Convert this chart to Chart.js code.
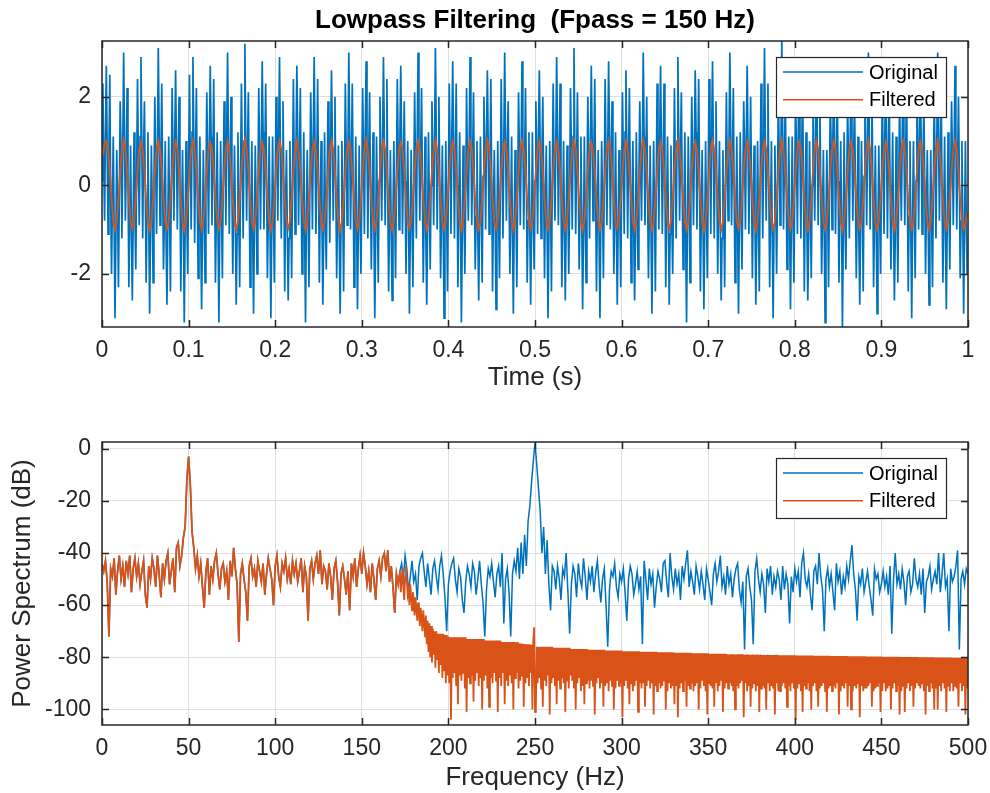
<!DOCTYPE html>
<html>
<head>
<meta charset="utf-8">
<title>Lowpass Filtering</title>
<script src="https://cdn.jsdelivr.net/npm/chart.js@4.4.1/dist/chart.umd.min.js"></script>
<style>
  body { margin: 0; background: #fff; }
  #wrap { position: relative; width: 990px; height: 793px; }
  canvas { position: absolute; left: 0; }
  #timeChart { top: 0; }
  #specChart { top: 400px; }
</style>
</head>
<body>
<div id="wrap">
  <canvas id="timeChart" width="990" height="400"></canvas>
  <canvas id="specChart" width="990" height="393"></canvas>
</div>
<script>
// ---------- time domain ----------
// original: one sample per ms starting at t = 0
const originalStart = 0;
const originalStep = 0.001;
// filtered: one sample every 2 ms starting at t = 1 ms
const filteredStart = 0.001;
const filteredStep = 0.002;
const timeTicks = [0, 0.1, 0.2, 0.3, 0.4, 0.5, 0.6, 0.7, 0.8, 0.9, 1];
const ampTicks = [-2, 0, 2];

// one row per 20 ms (one 50 Hz period)
const originalSignal = [
  0.1,2.3,0.5,-0.8,1.2,2.7,0.8,-1.1,0.7,2.5,-0.2,-2.0,-0.4,1.1,-0.9,-3.0,-1.2,0.8,-0.5,-2.3,
  -0.2,1.9,0.8,-1.2,0.9,3.0,1.1,-0.8,0.4,2.2,0.2,-2.3,-0.7,0.9,-1.1,-2.6,-0.8,1.2,-0.7,-1.9,
  0.2,2.4,0.6,-0.9,1.1,2.9,0.9,-1.2,0.8,1.9,-0.1,-2.2,-0.5,1.2,-0.8,-2.9,-1.1,0.9,-0.4,-2.2,
  0.0,2.0,0.4,-1.1,0.8,3.1,1.2,-0.9,0.6,2.3,0.1,-1.9,-0.8,1.0,-1.2,-2.7,-0.9,1.1,-0.6,-2.4,
  -0.1,2.2,0.7,-0.8,1.0,2.6,0.8,-1.0,0.5,2.0,0.0,-2.4,-0.6,0.8,-0.9,-3.1,-1.0,1.0,-0.8,-2.0,
  0.3,2.5,0.5,-1.0,1.2,2.9,1.0,-1.3,0.7,2.2,-0.2,-2.1,-0.3,1.1,-1.0,-2.8,-1.2,0.8,-0.5,-2.2,
  -0.1,2.1,0.6,-1.1,0.9,2.7,1.1,-0.9,0.4,2.4,0.1,-2.2,-0.7,1.2,-1.1,-3.1,-0.8,1.0,-0.6,-2.1,
  0.1,1.9,0.8,-0.9,1.1,3.0,0.9,-1.1,0.6,2.0,0.0,-2.0,-0.5,0.9,-0.8,-2.7,-1.1,1.2,-0.7,-2.3,
  0.2,2.3,0.5,-1.2,1.0,3.2,1.0,-0.8,0.8,2.1,-0.1,-2.3,-0.6,1.0,-1.2,-2.9,-0.9,0.9,-0.4,-2.0,
  -0.2,2.2,0.7,-1.0,0.8,2.8,1.2,-1.0,0.5,2.3,0.2,-2.1,-0.8,1.1,-0.9,-3.0,-1.0,1.1,-0.7,-2.2,
  0.0,2.0,0.6,-0.8,1.2,2.9,0.8,-1.2,0.7,1.9,0.0,-2.4,-0.4,0.8,-1.0,-2.6,-1.2,1.0,-0.5,-2.1,
  0.1,2.4,0.4,-1.1,0.9,2.7,1.1,-0.9,0.6,2.2,-0.2,-2.0,-0.7,1.2,-1.1,-3.1,-0.8,0.8,-0.6,-2.3,
  -0.1,2.1,0.8,-1.0,1.1,2.9,0.9,-1.1,0.4,2.4,0.1,-2.2,-0.5,1.0,-0.8,-2.7,-1.1,1.2,-0.8,-1.9,
  0.2,1.9,0.5,-1.3,1.0,2.6,1.0,-0.8,0.8,2.0,-0.1,-2.1,-0.6,0.9,-1.2,-2.9,-0.9,1.0,-0.4,-2.4,
  0.0,2.3,0.7,-0.9,0.8,3.0,1.2,-1.0,0.5,2.3,0.2,-2.3,-0.8,1.1,-0.9,-2.8,-1.0,0.9,-0.7,-2.0,
  -0.2,2.2,0.6,-1.1,1.2,2.8,0.8,-1.2,0.7,2.1,0.0,-1.9,-0.4,1.2,-1.0,-3.0,-1.2,1.1,-0.5,-2.2,
  0.1,2.0,0.4,-0.8,0.9,2.9,1.1,-0.9,0.6,2.4,-0.2,-2.4,-0.7,0.8,-1.1,-2.6,-0.8,1.0,-0.6,-2.1,
  0.2,2.4,0.8,-1.0,1.1,2.7,0.9,-1.1,0.4,1.9,0.1,-2.0,-0.5,1.0,-0.8,-2.9,-1.1,0.8,-0.8,-2.3,
  -0.1,2.1,0.5,-1.2,1.0,3.0,1.0,-0.8,0.8,2.2,-0.1,-2.2,-0.6,1.1,-1.2,-2.7,-0.9,1.2,-0.4,-1.9,
  0.0,1.9,0.7,-0.9,0.8,3.1,1.2,-1.0,0.5,2.0,0.2,-2.1,-0.8,0.9,-0.9,-3.0,-1.0,1.0,-0.7,-2.4,
  0.1,2.3,0.6,-1.1,1.2,2.8,0.8,-1.2,0.7,2.3,0.0,-2.3,-0.4,1.2,-1.0,-3.1,-1.2,0.9,-0.5,-2.0,
  -0.2,2.2,0.4,-0.8,0.9,2.9,1.1,-0.9,0.6,2.1,-0.2,-1.9,-0.7,1.0,-1.1,-2.6,-0.8,1.1,-0.6,-2.2,
  0.2,2.0,0.8,-1.0,1.1,2.6,0.9,-1.1,0.4,2.4,0.1,-2.4,-0.5,0.8,-0.8,-2.8,-1.1,1.0,-0.8,-2.1,
  0.0,2.4,0.5,-1.2,1.0,3.0,1.0,-0.8,0.8,1.9,-0.1,-2.0,-0.6,1.1,-1.2,-2.9,-0.9,0.8,-0.4,-2.3,
  -0.1,2.1,0.7,-0.9,0.8,2.8,1.2,-1.0,0.5,2.2,0.2,-2.2,-0.8,1.2,-0.9,-2.7,-1.0,1.2,-0.7,-1.9,
  0.1,1.9,0.6,-1.1,1.2,2.6,0.8,-1.2,0.7,2.0,0.0,-2.1,-0.4,0.9,-1.0,-3.0,-1.2,1.0,-0.5,-2.4,
  0.2,2.3,0.4,-0.8,0.9,2.9,1.1,-0.9,0.6,2.3,-0.2,-2.3,-0.7,1.0,-1.1,-2.6,-0.8,0.9,-0.6,-2.0,
  -0.2,2.2,0.8,-1.0,1.1,3.1,0.9,-1.1,0.4,2.1,0.1,-1.9,-0.5,1.1,-0.8,-2.8,-1.1,1.1,-0.8,-2.2,
  0.0,2.0,0.5,-1.2,1.0,2.7,1.0,-0.8,0.8,2.4,-0.1,-2.4,-0.6,0.8,-1.2,-3.0,-0.9,1.0,-0.4,-2.1,
  0.1,2.4,0.7,-0.9,0.8,2.8,1.2,-1.0,0.5,1.9,0.2,-2.0,-0.8,1.2,-0.9,-2.7,-1.0,0.8,-0.7,-2.3,
  -0.1,2.1,0.6,-1.1,1.2,2.6,0.8,-1.2,0.7,2.2,0.0,-2.2,-0.4,1.0,-1.0,-2.6,-1.2,1.2,-0.5,-1.9,
  0.2,1.9,0.4,-0.8,0.9,3.0,1.1,-0.9,0.6,2.0,-0.2,-2.1,-0.7,0.9,-1.1,-2.9,-0.8,1.0,-0.6,-2.4,
  0.0,2.3,0.8,-1.0,1.1,2.7,0.9,-1.1,0.4,2.3,0.1,-2.3,-0.5,1.1,-0.8,-2.7,-1.1,0.9,-0.8,-2.0,
  -0.2,2.2,0.5,-1.2,1.0,2.9,1.0,-0.8,0.8,2.1,-0.1,-1.9,-0.6,1.2,-1.2,-3.1,-0.9,1.1,-0.4,-2.2,
  0.1,2.0,0.7,-0.9,0.8,2.6,1.2,-1.0,0.5,2.4,0.2,-2.4,-0.8,0.8,-0.9,-2.8,-1.0,1.0,-0.7,-2.1,
  0.2,2.4,0.6,-1.1,1.2,2.8,0.8,-1.2,0.7,1.9,0.0,-2.0,-0.4,1.0,-1.0,-2.6,-1.2,0.8,-0.5,-2.3,
  -0.1,2.1,0.4,-0.8,0.9,3.0,1.1,-0.9,0.6,2.2,-0.2,-2.2,-0.7,1.1,-1.1,-2.9,-0.8,1.2,-0.6,-1.9,
  0.0,1.9,0.8,-1.0,1.1,2.7,0.9,-1.1,0.4,2.0,0.1,-2.1,-0.5,0.9,-0.8,-2.7,-1.1,1.0,-0.8,-2.4,
  0.1,2.3,0.5,-1.2,1.0,3.1,1.0,-0.8,0.8,2.3,-0.1,-2.3,-0.6,1.0,-1.2,-3.0,-0.9,0.9,-0.4,-2.0,
  -0.2,2.2,0.7,-0.9,0.8,3.3,1.2,-1.0,0.5,2.1,0.2,-1.9,-0.8,1.1,-0.9,-2.8,-1.0,1.1,-0.7,-2.2,
  0.2,2.0,0.6,-1.1,1.2,2.8,0.8,-1.2,0.7,2.4,0.0,-2.4,-0.4,1.2,-1.0,-2.6,-1.2,1.0,-0.5,-2.1,
  0.0,2.4,0.4,-0.8,0.9,2.9,1.1,-0.9,0.6,1.9,-0.2,-2.0,-0.7,0.8,-1.1,-3.1,-0.8,0.8,-0.6,-2.3,
  -0.1,2.1,0.8,-1.0,1.1,2.6,0.9,-1.1,0.4,2.2,0.1,-2.2,-0.5,1.0,-0.8,-3.2,-1.1,1.2,-0.8,-1.9,
  0.1,1.9,0.5,-1.2,1.0,2.8,1.0,-0.8,0.8,2.0,-0.1,-2.1,-0.6,1.1,-1.2,-2.7,-0.9,1.0,-0.4,-2.4,
  0.2,2.3,0.7,-0.9,0.8,3.0,1.2,-1.0,0.5,2.3,0.2,-2.3,-0.8,0.9,-0.9,-2.9,-1.0,0.9,-0.7,-2.0,
  -0.2,2.2,0.6,-1.1,1.2,2.7,0.8,-1.2,0.7,2.1,0.0,-1.9,-0.4,1.2,-1.0,-2.6,-1.2,1.1,-0.5,-2.2,
  0.0,2.0,0.4,-0.8,0.9,2.9,1.1,-0.9,0.6,2.4,-0.2,-2.4,-0.7,1.0,-1.1,-3.0,-0.8,1.0,-0.6,-2.1,
  0.1,2.4,0.8,-1.0,1.1,2.6,0.9,-1.1,0.4,1.9,0.1,-2.0,-0.5,0.8,-0.8,-2.7,-1.1,0.8,-0.8,-2.3,
  -0.1,2.1,0.5,-1.2,1.0,3.0,1.0,-0.8,0.8,2.2,-0.1,-2.2,-0.6,1.1,-1.2,-2.8,-0.9,1.2,-0.4,-1.9,
  0.2,1.9,0.7,-0.9,0.8,2.7,1.2,-1.0,0.5,2.0,0.2,-2.1,-0.8,1.0,-0.9,-2.9,-1.0,1.0,-0.7,-2.0
];

const filteredSignal = [
  0.68,0.93,1.0,0.82,0.31,-0.3,-0.8,-1.0,-0.81,-0.31,
  0.31,0.81,1.03,0.81,0.31,-0.31,-0.81,-0.98,-0.81,-0.31,
  0.31,0.81,0.98,0.81,0.31,-0.31,-0.81,-1.02,-0.81,-0.31,
  0.31,0.81,1.01,0.81,0.31,-0.31,-0.81,-0.99,-0.81,-0.31,
  0.31,0.81,0.99,0.81,0.31,-0.31,-0.81,-1.03,-0.81,-0.31,
  0.31,0.81,1.02,0.81,0.31,-0.31,-0.81,-1.0,-0.81,-0.31,
  0.31,0.81,0.97,0.81,0.31,-0.31,-0.81,-0.98,-0.81,-0.31,
  0.31,0.81,1.0,0.81,0.31,-0.31,-0.81,-1.01,-0.81,-0.31,
  0.31,0.81,1.03,0.81,0.31,-0.31,-0.81,-0.99,-0.81,-0.31,
  0.31,0.81,0.98,0.81,0.31,-0.31,-0.81,-1.02,-0.81,-0.31,
  0.31,0.81,1.0,0.81,0.31,-0.31,-0.81,-0.97,-0.81,-0.31,
  0.31,0.81,1.02,0.81,0.31,-0.31,-0.81,-1.01,-0.81,-0.31,
  0.31,0.81,0.99,0.81,0.31,-0.31,-0.81,-1.0,-0.81,-0.31,
  0.31,0.81,1.01,0.81,0.31,-0.31,-0.81,-1.03,-0.81,-0.31,
  0.31,0.81,0.98,0.81,0.31,-0.31,-0.81,-0.99,-0.81,-0.31,
  0.31,0.81,1.03,0.81,0.31,-0.31,-0.81,-1.0,-0.81,-0.31,
  0.31,0.81,1.0,0.81,0.31,-0.31,-0.81,-1.02,-0.81,-0.31,
  0.31,0.81,0.97,0.81,0.31,-0.31,-0.81,-0.98,-0.81,-0.31,
  0.31,0.81,1.01,0.81,0.31,-0.31,-0.81,-1.01,-0.81,-0.31,
  0.31,0.81,1.02,0.81,0.31,-0.31,-0.81,-0.99,-0.81,-0.31,
  0.31,0.81,0.99,0.81,0.31,-0.31,-0.81,-1.03,-0.81,-0.31,
  0.31,0.81,1.0,0.81,0.31,-0.31,-0.81,-1.0,-0.81,-0.31,
  0.31,0.81,1.03,0.81,0.31,-0.31,-0.81,-0.98,-0.81,-0.31,
  0.31,0.81,0.98,0.81,0.31,-0.31,-0.81,-1.02,-0.81,-0.31,
  0.31,0.81,1.01,0.81,0.31,-0.31,-0.81,-1.0,-0.81,-0.31,
  0.31,0.81,1.0,0.81,0.31,-0.31,-0.81,-0.99,-0.81,-0.31,
  0.31,0.81,0.99,0.81,0.31,-0.31,-0.81,-1.01,-0.81,-0.31,
  0.31,0.81,1.02,0.81,0.31,-0.31,-0.81,-1.03,-0.81,-0.31,
  0.31,0.81,0.98,0.81,0.31,-0.31,-0.81,-1.0,-0.81,-0.31,
  0.31,0.81,1.01,0.81,0.31,-0.31,-0.81,-0.98,-0.81,-0.31,
  0.31,0.81,1.0,0.81,0.31,-0.31,-0.81,-1.02,-0.81,-0.31,
  0.31,0.81,1.03,0.81,0.31,-0.31,-0.81,-1.0,-0.81,-0.31,
  0.31,0.81,0.99,0.81,0.31,-0.31,-0.81,-0.99,-0.81,-0.31,
  0.31,0.81,1.0,0.81,0.31,-0.31,-0.81,-1.01,-0.81,-0.31,
  0.31,0.81,0.98,0.81,0.31,-0.31,-0.81,-1.03,-0.81,-0.31,
  0.31,0.81,1.02,0.81,0.31,-0.31,-0.81,-1.0,-0.81,-0.31,
  0.31,0.81,1.01,0.81,0.31,-0.31,-0.81,-0.98,-0.81,-0.31,
  0.31,0.81,0.99,0.81,0.31,-0.31,-0.81,-1.02,-0.81,-0.31,
  0.31,0.81,1.0,0.81,0.31,-0.31,-0.81,-1.0,-0.81,-0.31,
  0.31,0.81,1.03,0.81,0.31,-0.31,-0.81,-0.99,-0.81,-0.31,
  0.31,0.81,0.98,0.81,0.31,-0.31,-0.81,-1.01,-0.81,-0.31,
  0.31,0.81,1.01,0.81,0.31,-0.31,-0.81,-1.0,-0.81,-0.31,
  0.31,0.81,1.0,0.81,0.31,-0.31,-0.81,-1.03,-0.81,-0.31,
  0.31,0.81,0.99,0.81,0.31,-0.31,-0.81,-0.98,-0.81,-0.31,
  0.31,0.81,1.02,0.81,0.31,-0.31,-0.81,-1.0,-0.81,-0.31,
  0.31,0.81,0.98,0.81,0.31,-0.31,-0.81,-1.02,-0.81,-0.31,
  0.31,0.81,1.01,0.81,0.31,-0.31,-0.81,-0.99,-0.81,-0.31,
  0.31,0.81,1.0,0.81,0.31,-0.31,-0.81,-1.01,-0.81,-0.31,
  0.31,0.81,1.02,0.81,0.31,-0.31,-0.81,-1.0,-0.81,-0.31,
  0.31,0.81,1.0,0.81,0.31,-0.31,-0.8,-0.99,-0.86,-0.62
];

// ---------- power spectrum ----------
const freqTicks = [0, 50, 100, 150, 200, 250, 300, 350, 400, 450, 500];
const dbTicks = [-100, -80, -60, -40, -20, 0];

// 0..170 Hz in 1 Hz bins, both curves are the same here (passband)
const passbandDb = [
  -44,-47,-43,-51,-72,-46,-49,-42,-56,-47,
  -41,-50,-45,-53,-43,-48,-41,-55,-46,-42,
  -49,-44,-52,-47,-43,-56,-61,-45,-50,-42,
  -46,-53,-41,-48,-57,-44,-50,-43,-40,-52,
  -47,-42,-55,-38,-36,-45,-41,-34,-30,-12,
  -3,-14,-32,-38,-46,-41,-49,-44,-53,-61,
  -47,-42,-56,-45,-50,-43,-40,-48,-54,-46,
  -44,-51,-47,-58,-43,-49,-38,-46,-52,-74,
  -48,-44,-50,-55,-66,-45,-42,-49,-46,-53,
  -43,-47,-51,-44,-56,-48,-42,-46,-50,-60,
  -45,-41,-49,-53,-44,-47,-42,-50,-46,-52,
  -43,-48,-44,-51,-47,-42,-55,-45,-49,-66,
  -46,-43,-50,-44,-41,-48,-39,-52,-45,-47,
  -54,-44,-49,-58,-46,-43,-51,-64,-48,-45,
  -50,-56,-47,-62,-44,-49,-42,-53,-46,-41,
  -48,-40,-45,-52,-47,-55,-44,-50,-58,-46,
  -43,-49,-42,-40,-47,-39,-51,-45,-53,-63,
  -48
];

// original, 171..500 Hz in 1 Hz bins
const originalHighDb = [
  -52,-47,-44,-50,-41,-46,-55,-49,-43,-51,
  -48,-58,-45,-42,-40,-47,-53,-44,-50,-56,
  -46,-43,-49,-54,-45,-41,-48,-57,-70,-52,
  -47,-44,-42,-50,-55,-46,-49,-58,-63,-51,
  -45,-48,-53,-44,-47,-56,-50,-43,-52,-59,
  -72,-54,-46,-49,-44,-51,-57,-48,-45,-53,
  -40,-67,-50,-46,-55,-72,-48,-43,-47,-38,
  -50,-36,-48,-33,-45,-28,-22,-13,-5,2.4,
  -6,-15,-24,-40,-30,-48,-35,-52,-62,-45,
  -47,-54,-45,-50,-58,-46,-49,-40,-55,-71,
  -52,-45,-48,-57,-44,-50,-53,-42,-49,-58,
  -47,-51,-45,-55,-48,-43,-52,-59,-50,-46,
  -60,-76,-54,-47,-49,-44,-53,-57,-48,-51,
  -46,-55,-66,-50,-45,-48,-56,-52,-47,-54,
  -49,-75,-43,-50,-58,-46,-52,-48,-61,-53,
  -47,-50,-55,-44,-43,-51,-57,-40,-49,-54,
  -46,-52,-48,-58,-45,-50,-44,-39,-53,-47,
  -51,-56,-45,-49,-54,-47,-52,-58,-46,-50,
  -55,-60,-48,-44,-51,-47,-41,-53,-49,-56,
  -45,-52,-48,-57,-50,-46,-44,-54,-59,-51,
  -77,-49,-46,-53,-58,-75,-47,-42,-50,-55,
  -48,-52,-63,-46,-51,-45,-56,-49,-53,-47,
  -50,-58,-45,-54,-48,-52,-67,-49,-55,-46,
  -51,-47,-57,-44,-40,-50,-53,-48,-56,-62,
  -47,-45,-52,-40,-49,-54,-70,-50,-46,-53,
  -48,-55,-62,-44,-51,-47,-56,-49,-53,-45,
  -50,-43,-37,-48,-54,-66,-49,-52,-46,-55,
  -51,-47,-53,-58,-64,-46,-50,-48,-55,-52,
  -47,-53,-49,-56,-45,-71,-50,-40,-52,-48,
  -54,-46,-51,-60,-49,-47,-55,-52,-42,-50,
  -53,-48,-56,-46,-63,-51,-49,-45,-54,-50,
  -47,-52,-40,-55,-48,-40,-53,-50,-70,-46,
  -51,-49,-45,-39,-77,-50,-47,-52,-46,-48
];

// filtered, 171..500.5 Hz in 0.5 Hz bins
const filteredHighStart = 171;
const filteredHighStep = 0.5;
const filteredHighDb = [
  -52,-49,-47,-55,-50,-46,-53,-58,-49,-45,
  -51,-56,-54,-60,-52,-57,-62,-55,-58,-64,
  -57,-61,-66,-59,-63,-68,-61,-65,-70,-62,
  -66,-72,-64,-75,-66,-78,-67,-80,-68,-82,
  -69,-79,-70,-84,-70,-81,-71,-86,-71,-83,
  -71,-88,-71,-85,-71.5,-90,-71.5,-87,-72,-90,
  -72.3,-104,-72.3,-88,-72.3,-86,-72.3,-91,-72.3,-98,-72.3,-87,-72.3,-89,-72.3,-86,-72.3,-92,-72.3,-101,
  -73,-88,-73,-90,-73,-87,-73,-97,-73,-89,-73,-86,-73,-91,-73,-88,-73,-100,-73,-89,
  -73.6,-87,-73.6,-92,-73.6,-99,-73.6,-88,-73.6,-90,-73.6,-86,-73.6,-89,-73.6,-101,-73.6,-88,-73.6,-91,
  -74.2,-86,-74.2,-98,-74.2,-89,-74.2,-91,-74.2,-87,-74.2,-90,-74.2,-100,-74.2,-88,-74.2,-86,-74.2,-92,
  -74.6,-89,-74.7,-87,-74.8,-99,-74.9,-90,-75,-88,-75,-91,-75.1,-86,-75.2,-100,-74,-68.5,-101,-100,
  -76,-90,-76,-88,-76,-92,-76,-99,-76,-89,-76,-91,-76,-87,-76,-102,-76,-90,-76,-88,
  -76.4,-91,-76.4,-98,-76.4,-89,-76.4,-92,-76.4,-88,-76.4,-90,-76.4,-101,-76.4,-89,-76.4,-92,-76.4,-87,
  -76.8,-89,-76.8,-92,-76.8,-100,-76.8,-90,-76.8,-88,-76.8,-93,-76.8,-91,-76.8,-98,-76.8,-90,-76.8,-89,
  -77.1,-92,-77.1,-89,-77.1,-91,-77.1,-102,-77.1,-90,-77.1,-88,-77.1,-92,-77.1,-90,-77.1,-99,-77.1,-91,
  -77.4,-90,-77.4,-93,-77.4,-89,-77.4,-91,-77.4,-100,-77.4,-92,-77.4,-89,-77.4,-91,-77.4,-90,-77.4,-103,
  -77.7,-91,-77.7,-89,-77.7,-92,-77.7,-98,-77.7,-90,-77.7,-93,-77.7,-91,-77.7,-89,-77.7,-101,-77.7,-90,
  -77.9,-92,-77.9,-90,-77.9,-99,-77.9,-91,-77.9,-89,-77.9,-92,-77.9,-90,-77.9,-102,-77.9,-91,-77.9,-93,
  -78.1,-90,-78.1,-92,-78.1,-91,-78.1,-89,-78.1,-100,-78.1,-93,-78.1,-90,-78.1,-92,-78.1,-91,-78.1,-98,
  -78.3,-91,-78.3,-103,-78.3,-92,-78.3,-90,-78.3,-93,-78.3,-89,-78.3,-99,-78.3,-91,-78.3,-92,-78.3,-90,
  -78.5,-93,-78.5,-91,-78.5,-90,-78.5,-100,-78.5,-92,-78.5,-89,-78.5,-91,-78.5,-93,-78.5,-102,-78.5,-90,
  -78.7,-91,-78.7,-92,-78.7,-99,-78.7,-90,-78.7,-93,-78.7,-91,-78.7,-89,-78.7,-101,-78.7,-92,-78.7,-90,
  -78.9,-92,-78.9,-90,-78.9,-91,-78.9,-93,-78.9,-100,-78.9,-91,-78.9,-92,-78.9,-90,-78.9,-89,-78.9,-103,
  -79,-90,-79,-93,-79,-91,-79,-99,-79,-92,-79,-90,-79,-93,-79,-91,-79,-101,-79,-92,
  -79.1,-91,-79.1,-92,-79.1,-100,-79.1,-90,-79.1,-93,-79.1,-91,-79.1,-92,-79.1,-102,-79.1,-90,-79.1,-93,
  -79.2,-93,-79.2,-91,-79.2,-90,-79.2,-92,-79.2,-99,-79.2,-91,-79.2,-93,-79.2,-90,-79.2,-92,-79.2,-104,
  -79.3,-92,-79.3,-90,-79.3,-93,-79.3,-101,-79.3,-91,-79.3,-92,-79.3,-90,-79.3,-93,-79.3,-100,-79.3,-91,
  -79.4,-90,-79.4,-93,-79.4,-99,-79.4,-92,-79.4,-91,-79.4,-90,-79.4,-93,-79.4,-101,-79.4,-92,-79.4,-91,
  -79.5,-93,-79.5,-91,-79.5,-92,-79.5,-90,-79.5,-102,-79.5,-93,-79.5,-91,-79.5,-92,-79.5,-90,-79.5,-99,
  -79.6,-91,-79.6,-100,-79.6,-93,-79.6,-91,-79.6,-92,-79.6,-90,-79.6,-103,-79.6,-91,-79.6,-93,-79.6,-92,
  -79.7,-92,-79.7,-91,-79.7,-90,-79.7,-99,-79.7,-93,-79.7,-92,-79.7,-91,-79.7,-90,-79.7,-101,-79.7,-93,
  -79.8,-90,-79.8,-93,-79.8,-92,-79.8,-91,-79.8,-100,-79.8,-92,-79.8,-90,-79.8,-93,-79.8,-91,-79.8,-102,
  -79.9,-93,-79.9,-91,-79.9,-101,-79.9,-92,-79.9,-90,-79.9,-93,-79.9,-91,-79.9,-99,-79.9,-92,-79.9,-90,
  -80,-91,-80,-92,-80,-90,-80,-93,-80,-102,-80,-91,-80,-93,-80,-90,-80,-92,-80,-100,
  -80.1,-92,-80.1,-100,-80.1,-91,-80.1,-93,-80.1,-90,-80.1,-92,-80.1,-101,-80.1,-91,-80.1,-93,-80.1,-90,
  -80.2,-93,-80.2,-91,-80.2,-92,-80.2,-99,-80.2,-90,-80.2,-93,-80.2,-91,-80.2,-102,-80.2,-92,-80.2,-91
];

// ---------- styling ----------
const FONT = "'Liberation Sans', Arial, Helvetica, sans-serif";
const BLUE = "rgb(0, 114, 189)";
const ORANGE = "rgb(217, 83, 25)";
const GRID = "#dfdfdf";
const AXIS = "#262626";

Chart.defaults.font.family = FONT;
Chart.defaults.color = AXIS;

const sampled = (values, start, step) =>
  values.map((v, i) => ({ x: start + i * step, y: v }));

const originalSpec = sampled(passbandDb.concat(originalHighDb), 0, 1);
const filteredSpec = sampled(passbandDb, 0, 1).concat(
  sampled(filteredHighDb, filteredHighStart, filteredHighStep)
);

// Replace auto ticks with the ones.
const fixedTicks = (values) => (scale) => {
  scale.ticks = values.map((v) => ({ value: v }));
};

function xAxis(min, max, tickValues, label, height, titlePad) {
  return {
    type: "linear",
    min,
    max,
    afterBuildTicks: fixedTicks(tickValues),
    afterFit: (scale) => {
      scale.height = height;
      // let the end labels hang over the plot edge like MATLAB does
      scale.paddingLeft = 0;
      scale.paddingRight = 0;
    },
    grid: { color: GRID, drawTicks: false },
    border: { display: false },
    ticks: {
      autoSkip: false,
      maxRotation: 0,
      padding: 10.2,
      font: { size: 23 },
      callback: (v) => String(v),
    },
    title: {
      display: true,
      text: label,
      font: { size: 26 },
      padding: { top: 0, bottom: titlePad },
    },
  };
}

function yAxis(min, max, tickValues, label) {
  return {
    type: "linear",
    min,
    max,
    afterBuildTicks: fixedTicks(tickValues),
    afterFit: (scale) => {
      scale.width = 102;
      scale.paddingTop = 0;
      scale.paddingBottom = 0;
    },
    grid: { color: GRID, drawTicks: false },
    border: { display: false },
    ticks: {
      autoSkip: false,
      padding: 11,
      font: { size: 23 },
      callback: (v) => String(v),
    },
    title: {
      display: !!label,
      text: label || "",
      font: { size: 26 },
      padding: { top: 7.4, bottom: 0 },
    },
  };
}

// MATLAB style axes box with inward tick marks on all four sides
const axesBox = {
  id: "axesBox",
  afterDatasetsDraw(chart) {
    const { ctx, chartArea: a, scales } = chart;
    const len = 7;
    ctx.save();
    ctx.strokeStyle = AXIS;
    ctx.lineWidth = 1.5;
    ctx.strokeRect(a.left, a.top, a.right - a.left, a.bottom - a.top);
    ctx.beginPath();
    for (const t of scales.x.ticks) {
      const px = Math.round(scales.x.getPixelForValue(t.value)) + 0.5;
      ctx.moveTo(px, a.bottom);
      ctx.lineTo(px, a.bottom - len);
      ctx.moveTo(px, a.top);
      ctx.lineTo(px, a.top + len);
    }
    for (const t of scales.y.ticks) {
      const py = Math.round(scales.y.getPixelForValue(t.value)) + 0.5;
      ctx.moveTo(a.left, py);
      ctx.lineTo(a.left + len, py);
      ctx.moveTo(a.right, py);
      ctx.lineTo(a.right - len, py);
    }
    ctx.stroke();
    ctx.restore();
  },
};

// Boxed legend in the upper right corner of the axes
const boxLegend = {
  id: "boxLegend",
  afterDraw(chart) {
    const { ctx, chartArea: a } = chart;
    const w = 170;
    const h = 60;
    const left = Math.round(a.right - 22 - w);
    const top = Math.round(a.top + 16);
    ctx.save();
    ctx.fillStyle = "#fff";
    ctx.fillRect(left, top, w, h);
    ctx.strokeStyle = AXIS;
    ctx.lineWidth = 1.2;
    ctx.strokeRect(left + 0.5, top + 0.5, w, h);
    ctx.font = "20px " + FONT;
    ctx.textBaseline = "middle";
    chart.data.datasets.forEach((ds, i) => {
      const y = top + 15 + i * 27.7;
      ctx.strokeStyle = ds.borderColor;
      ctx.lineWidth = 1.5;
      ctx.beginPath();
      ctx.moveTo(left + 7, y);
      ctx.lineTo(left + 87, y);
      ctx.stroke();
      ctx.fillStyle = "#000";
      ctx.fillText(ds.label, left + 93, y + 1);
    });
    ctx.restore();
  },
};

const baseOptions = {
  responsive: false,
  animation: false,
  events: [],
  elements: { point: { radius: 0 }, line: { tension: 0 } },
};

new Chart(document.getElementById("timeChart").getContext("2d"), {
  type: "line",
  data: {
    datasets: [
      {
        label: "Original",
        data: sampled(originalSignal, originalStart, originalStep),
        borderColor: BLUE,
        borderWidth: 1.7,
        order: 2,
      },
      {
        label: "Filtered",
        data: sampled(filteredSignal, filteredStart, filteredStep),
        borderColor: ORANGE,
        borderWidth: 1.8,
        order: 1,
      },
    ],
  },
  options: {
    ...baseOptions,
    layout: { padding: { left: 0, right: 22, top: 0, bottom: 0 } },
    plugins: {
      legend: { display: false },
      tooltip: { enabled: false },
      title: {
        display: true,
        fullSize: false,
        text: "Lowpass Filtering  (Fpass = 150 Hz)",
        color: "#000",
        font: { size: 26, weight: "bold", lineHeight: 1.2 },
        padding: { top: 4.9, bottom: 4.9 },
      },
    },
    scales: {
      x: xAxis(0, 1, timeTicks, "Time (s)", 73, 6.4),
      y: yAxis(-3.2, 3.26, ampTicks, null),
    },
  },
  plugins: [axesBox, boxLegend],
});

new Chart(document.getElementById("specChart").getContext("2d"), {
  type: "line",
  data: {
    datasets: [
      { label: "Original", data: originalSpec, borderColor: BLUE, borderWidth: 1.5, order: 2 },
      { label: "Filtered", data: filteredSpec, borderColor: ORANGE, borderWidth: 1.8, order: 1 },
    ],
  },
  options: {
    ...baseOptions,
    layout: { padding: { left: 0, right: 22, top: 42, bottom: 0 } },
    plugins: { legend: { display: false }, tooltip: { enabled: false } },
    scales: {
      x: xAxis(0, 500, freqTicks, "Frequency (Hz)", 68, 0),
      y: yAxis(-106, 2.6, dbTicks, "Power Spectrum (dB)"),
    },
  },
  plugins: [axesBox, boxLegend],
});
</script>
</body>
</html>
